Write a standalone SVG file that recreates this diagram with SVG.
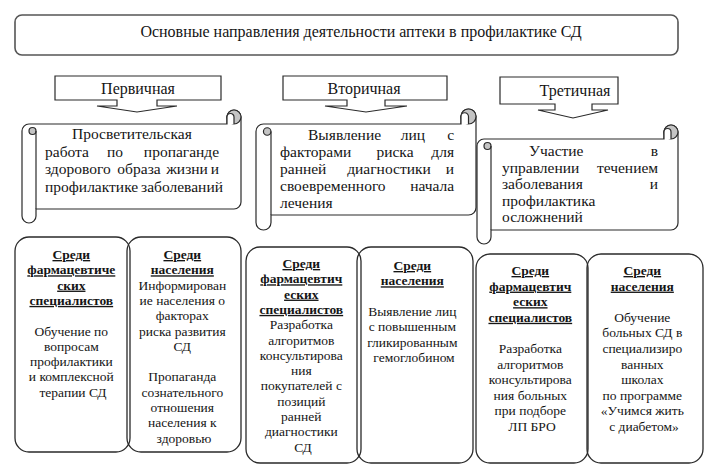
<svg xmlns="http://www.w3.org/2000/svg" width="717" height="471" viewBox="0 0 717 471">
<style>
text{font-family:"Liberation Serif","Times New Roman",serif;fill:#151515}
.t16{font-size:16px}
.sc{font-size:15.5px}
.bx{font-size:13.5px;text-anchor:middle}
.hd{font-weight:bold;text-decoration:underline}
.s{text-anchor:start}
.m{text-anchor:middle}
.e{text-anchor:end}
.outline{fill:#fff;stroke:#2a2a2a;stroke-width:1.2}
.curl{fill:#c4c4c4;stroke:#2a2a2a;stroke-width:1.2}
.line{fill:none;stroke:#2a2a2a;stroke-width:1.2}
.rbox{fill:none;stroke:#2a2a2a;stroke-width:1.3}
</style>
<rect width="717" height="471" fill="#fff"/>

<g id="title">
<rect x="15" y="15" width="663" height="40" rx="7" fill="#fff" stroke="#555" stroke-width="1.6"/>
<text class="t16 m" x="361" y="37">Основные направления деятельности аптеки в профилактике СД</text>
</g>

<g id="primary">
<path class="outline" d="M55,76 L221,76 L221,100 L157,100 L157,106 L177,106 L137,112 L97,106 L117,106 L117,100 L55,100 Z"/>
<text class="t16 m" x="138" y="94">Первичная</text>
</g>
<g id="secondary">
<path class="outline" d="M283,76 L447,76 L447,100 L385,100 L385,106 L407,106 L366,112 L325,106 L347,106 L347,100 L283,100 Z"/>
<text class="t16 m" x="364" y="94">Вторичная</text>
</g>
<g id="tertiary">
<path class="outline" d="M500,77 L618,77 L618,104 L592,104 L592,110 L608,110 L573,118 L538,110 L555,110 L555,104 L500,104 Z"/>
<text class="t16 m" x="575" y="96">Третичная</text>
</g>

<g id="scroll1">
<path class="outline" d="M29,124 L227,124 L227,117 A7,7 0 0 1 241,117 L241,202 A7,7 0 0 1 234,209 L36,209 L36,216 A7,7 0 0 1 22,216 L22,131 A7,7 0 0 1 29,124 Z"/>
<circle class="curl" cx="234" cy="117" r="7"/>
<path class="outline" d="M227,124 L227,117 A3.5,3.5 0 0 1 234,117 L234,124"/>
<circle class="curl" cx="32.5" cy="131" r="3.5"/>
<path class="line" d="M36,131 L36,209"/>
<text class="sc">
<tspan class="s" x="72" y="139">Просветительская</tspan>
<tspan class="s" x="45" y="156.5">работа</tspan><tspan class="m" x="115" y="156.5">по</tspan><tspan class="e" x="223" y="156.5">пропаганде</tspan>
<tspan class="s" x="45" y="174">здорового</tspan><tspan class="m" x="139" y="174">образа</tspan><tspan class="m" x="187" y="174">жизни</tspan><tspan class="e" x="223" y="174">и</tspan>
<tspan class="s" x="45" y="191.5">профилактике</tspan><tspan class="e" x="223" y="191.5">заболеваний</tspan>
</text>
</g>

<g id="scroll2">
<path class="outline" d="M263.5,124 L461,124 L461,116.5 A7.5,7.5 0 0 1 476,116.5 L476,207.5 A7.5,7.5 0 0 1 468.5,215 L271,215 L271,222.5 A7.5,7.5 0 0 1 256,222.5 L256,131.5 A7.5,7.5 0 0 1 263.5,124 Z"/>
<circle class="curl" cx="468.5" cy="116.5" r="7.5"/>
<path class="outline" d="M461,124 L461,116.5 A3.75,3.75 0 0 1 468.5,116.5 L468.5,124"/>
<circle class="curl" cx="267.2" cy="131.5" r="3.75"/>
<path class="line" d="M271,131.5 L271,215"/>
<text class="sc">
<tspan class="s" x="308" y="140">Выявление</tspan><tspan class="m" x="413" y="140">лиц</tspan><tspan class="e" x="458" y="140">с</tspan>
<tspan class="s" x="280" y="157">факторами</tspan><tspan class="m" x="395" y="157">риска</tspan><tspan class="e" x="458" y="157">для</tspan>
<tspan class="s" x="280" y="174">ранней</tspan><tspan class="m" x="389" y="174">диагностики</tspan><tspan class="e" x="458" y="174">и</tspan>
<tspan class="s" x="280" y="191">своевременного</tspan><tspan class="e" x="458" y="191">начала</tspan>
<tspan class="s" x="280" y="208">лечения</tspan>
</text>
</g>

<g id="scroll3">
<path class="outline" d="M484,139 L664,139 L664,132 A7,7 0 0 1 678,132 L678,223 A7,7 0 0 1 671,230 L491,230 L491,237 A7,7 0 0 1 477,237 L477,146 A7,7 0 0 1 484,139 Z"/>
<circle class="curl" cx="671" cy="132" r="7"/>
<path class="outline" d="M664,139 L664,132 A3.5,3.5 0 0 1 671,132 L671,139"/>
<circle class="curl" cx="487.5" cy="146" r="3.5"/>
<path class="line" d="M491,146 L491,230"/>
<text class="sc">
<tspan class="s" x="529" y="156">Участие</tspan><tspan class="e" x="662" y="156">в</tspan>
<tspan class="s" x="502" y="172.5">управлении</tspan><tspan class="e" x="662" y="172.5">течением</tspan>
<tspan class="s" x="502" y="189">заболевания</tspan><tspan class="e" x="662" y="189">и</tspan>
<tspan class="s" x="502" y="205.5">профилактика</tspan>
<tspan class="s" x="502" y="222">осложнений</tspan>
</text>
</g>

<g id="box1">
<rect class="rbox" x="15" y="237" width="115" height="215" rx="14"/>
<text class="bx">
<tspan class="hd" x="73" y="259">Среди</tspan>
<tspan class="hd" x="73" y="274.3">фармацевтиче</tspan>
<tspan class="hd" x="73" y="289.6">ских</tspan>
<tspan class="hd" x="73" y="304.9">специалистов</tspan>
<tspan x="73" y="335.5">Обучение по</tspan>
<tspan x="73" y="350.8">вопросам</tspan>
<tspan x="73" y="366.1">профилактики</tspan>
<tspan x="73" y="381.4">и комплексной</tspan>
<tspan x="73" y="396.7">терапии СД</tspan>
</text>
</g>
<g id="box2">
<rect class="rbox" x="127" y="237" width="114" height="215" rx="14"/>
<text class="bx">
<tspan class="hd" x="184" y="259">Среди</tspan>
<tspan class="hd" x="184" y="274.3">населения</tspan>
<tspan x="184" y="289.6">Информирован</tspan>
<tspan x="184" y="304.9">ие населения о</tspan>
<tspan x="184" y="320.2">факторах</tspan>
<tspan x="184" y="335.5">риска развития</tspan>
<tspan x="184" y="350.8">СД</tspan>
<tspan x="184" y="381.4">Пропаганда</tspan>
<tspan x="184" y="396.7">сознательного</tspan>
<tspan x="184" y="412">отношения</tspan>
<tspan x="184" y="427.3">населения к</tspan>
<tspan x="184" y="442.6">здоровью</tspan>
</text>
</g>
<g id="box3">
<rect class="rbox" x="246" y="247" width="115" height="216" rx="14"/>
<text class="bx">
<tspan class="hd" x="303" y="268">Среди</tspan>
<tspan class="hd" x="303" y="283.3">фармацевтич</tspan>
<tspan class="hd" x="303" y="298.6">еских</tspan>
<tspan class="hd" x="303" y="313.9">специалистов</tspan>
<tspan x="303" y="329.2">Разработка</tspan>
<tspan x="303" y="344.5">алгоритмов</tspan>
<tspan x="303" y="359.8">консультирова</tspan>
<tspan x="303" y="375.1">ния</tspan>
<tspan x="303" y="390.4">покупателей с</tspan>
<tspan x="303" y="405.7">позиций</tspan>
<tspan x="303" y="421">ранней</tspan>
<tspan x="303" y="436.3">диагностики</tspan>
<tspan x="303" y="451.6">СД</tspan>
</text>
</g>
<g id="box4">
<rect class="rbox" x="357" y="247" width="116" height="216" rx="14"/>
<text class="bx">
<tspan class="hd" x="414" y="270">Среди</tspan>
<tspan class="hd" x="414" y="285.3">населения</tspan>
<tspan x="414" y="315.9">Выявление лиц</tspan>
<tspan x="414" y="331.2">с повышенным</tspan>
<tspan x="414" y="346.5">гликированным</tspan>
<tspan x="414" y="361.8">гемоглобином</tspan>
</text>
</g>
<g id="box5">
<rect class="rbox" x="476" y="254" width="112" height="209" rx="14"/>
<text class="bx">
<tspan class="hd" x="532" y="275">Среди</tspan>
<tspan class="hd" x="532" y="290.6">фармацевтич</tspan>
<tspan class="hd" x="532" y="306.2">еских</tspan>
<tspan class="hd" x="532" y="321.8">специалистов</tspan>
<tspan x="532" y="353">Разработка</tspan>
<tspan x="532" y="368.6">алгоритмов</tspan>
<tspan x="532" y="384.2">консультирова</tspan>
<tspan x="532" y="399.8">ния больных</tspan>
<tspan x="532" y="415.4">при подборе</tspan>
<tspan x="532" y="431">ЛП БРО</tspan>
</text>
</g>
<g id="box6">
<rect class="rbox" x="587" y="254" width="116" height="209" rx="14"/>
<text class="bx">
<tspan class="hd" x="644" y="275">Среди</tspan>
<tspan class="hd" x="644" y="290.6">населения</tspan>
<tspan x="644" y="321.8">Обучение</tspan>
<tspan x="644" y="337.4">больных СД в</tspan>
<tspan x="644" y="353">специализиро</tspan>
<tspan x="644" y="368.6">ванных</tspan>
<tspan x="644" y="384.2">школах</tspan>
<tspan x="644" y="399.8">по программе</tspan>
<tspan x="644" y="415.4">«Учимся жить</tspan>
<tspan x="644" y="431">с диабетом»</tspan>
</text>
</g>
<g id="connectors"></g>
</svg>
